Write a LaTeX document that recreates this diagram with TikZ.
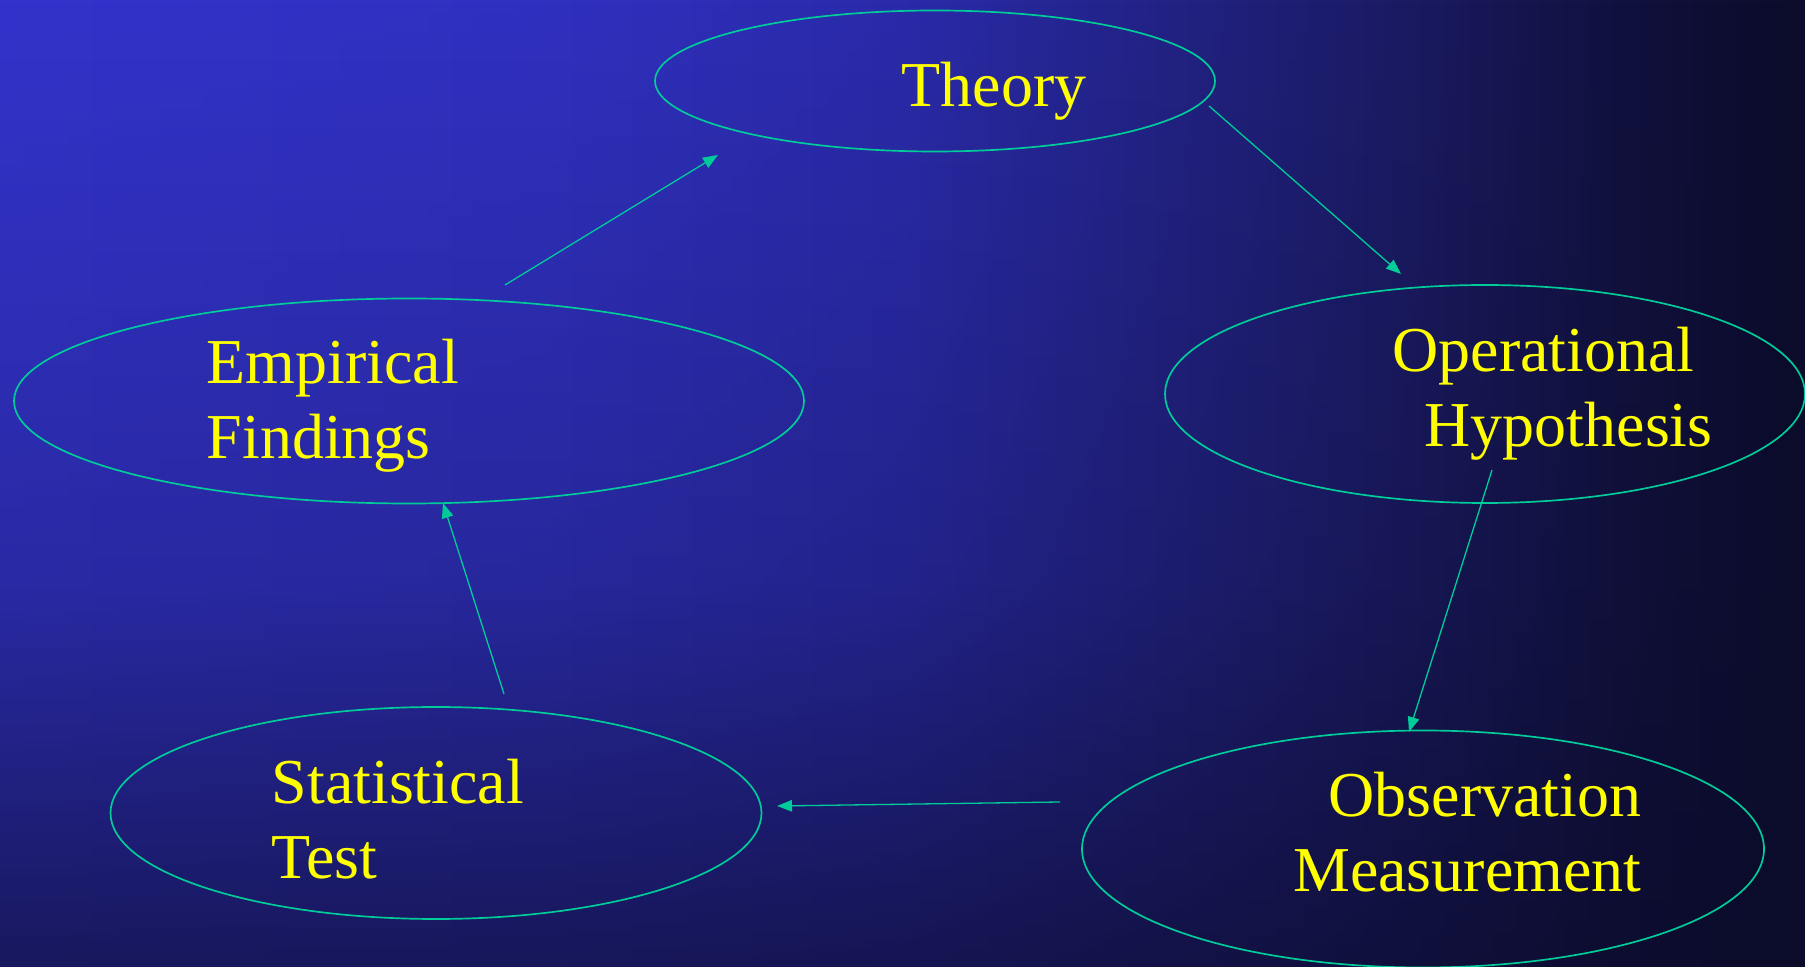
\documentclass[tikz,border=0pt]{standalone}
\usepackage{fontspec}
\setmainfont{Liberation Serif}
\usetikzlibrary{arrows.meta, fadings, shapes.geometric}
\definecolor{bgcol0}{RGB}{51, 51, 204}
\definecolor{bgcol1}{RGB}{48, 48, 192}
\definecolor{bgcol2}{RGB}{42, 42, 170}
\definecolor{bgcol3}{RGB}{34, 34, 132}
\definecolor{bgcol4}{RGB}{26, 26, 98}
\definecolor{bgcol5}{RGB}{17, 17, 62}
\definecolor{darkcol}{RGB}{11, 11, 42}
\definecolor{rimcol}{RGB}{0, 204, 153}
\definecolor{wordcol}{RGB}{255, 255, 0}
% background: bright in the top left corner, dark to the right and below
% (the middle 50bp of a shading are what is stretched over the path)
\pgfdeclarehorizontalshading{bgshade}{100bp}{color(0bp)=(bgcol0);
  color(25bp)=(bgcol0); color(40bp)=(bgcol1); color(50bp)=(bgcol2);
  color(57.5bp)=(bgcol3); color(64bp)=(bgcol4); color(70bp)=(bgcol5);
  color(75bp)=(darkcol); color(100bp)=(darkcol)}
\pgfdeclareverticalshading{bgfadeshade}{100bp}{color(0bp)=(white!68!black);
  color(25bp)=(white!68!black); color(45bp)=(white!24!black);
  color(75bp)=(black); color(100bp)=(black)}
\pgfdeclarefading{bgfade}{\pgfuseshading{bgfadeshade}}
\tikzset{
  cyc/.style   = {draw=rimcol, line width=0.48pt, ellipse, inner sep=0pt,
                  outer sep=0pt},
  word/.style  = {text=wordcol, align=left, inner sep=0pt,
                  font=\fontsize{18.2}{21.6}\selectfont},
  flow/.style  = {-{Triangle[length=1.5mm, width=1.15mm]}, draw=rimcol,
                  line width=0.37pt},
}

\begin{document}
\begin{tikzpicture}[x=0.1mm, y=-0.1mm]

  %% ---------------- background ----------------
  \useasboundingbox (0,0) rectangle (1805,967);
  \shade[shading=bgshade] (0,0) rectangle (1805,967);
  \fill[darkcol, path fading=bgfade, fit fading=true]
       (0,0) rectangle (1805,967);

  %% ---------------- the five stages ----------------
  \node[cyc, minimum width=56mm, minimum height=14.1mm]
       (theory) at (935,81) {};
  \node[cyc, minimum width=64mm, minimum height=21.8mm]
       (hypo) at (1485,394) {};
  \node[cyc, minimum width=68.2mm, minimum height=23.7mm]
       (obs) at (1423,849) {};
  \node[cyc, minimum width=65.1mm, minimum height=21.2mm]
       (stat) at (436,813) {};
  \node[cyc, minimum width=79mm, minimum height=20.5mm]
       (emp) at (409,401) {};

  %% ---------------- their words (base = last line) ----------------
  \node[word, anchor=base west] (theorytxt) at (901,107) {Theory};
  \node[word, anchor=base west] (hypotxt) at (1392,447)
       {Operational\\\hspace*{3.2mm}Hypothesis};
  \node[word, anchor=base east, align=right] (obstxt) at (1642,892)
       {Observation\\Measurement};
  \node[word, anchor=base west] (stattxt) at (271,879)
       {Statistical\\Test};
  \node[word, anchor=base west] (emptxt) at (206,459)
       {Empirical\\Findings};

  %% ---------------- round the cycle ----------------
  \coordinate (theory-out) at (1209,106);
  \coordinate (hypo-in)    at (1401,274);
  \coordinate (hypo-out)   at (1492,470);
  \coordinate (obs-in)     at (1409,732);
  \coordinate (obs-out)    at (1060,802);
  \coordinate (stat-in)    at (777,806);
  \coordinate (stat-out)   at (504,694);
  \coordinate (emp-in)     at (443,503);
  \coordinate (emp-out)    at (505,285);
  \coordinate (theory-in)  at (718,155);

  \draw[flow] (theory-out) -- (hypo-in);
  \draw[flow] (hypo-out) -- (obs-in);
  \draw[flow] (obs-out) -- (stat-in);
  \draw[flow] (stat-out) -- (emp-in);
  \draw[flow] (emp-out) -- (theory-in);

\end{tikzpicture}
\end{document}
